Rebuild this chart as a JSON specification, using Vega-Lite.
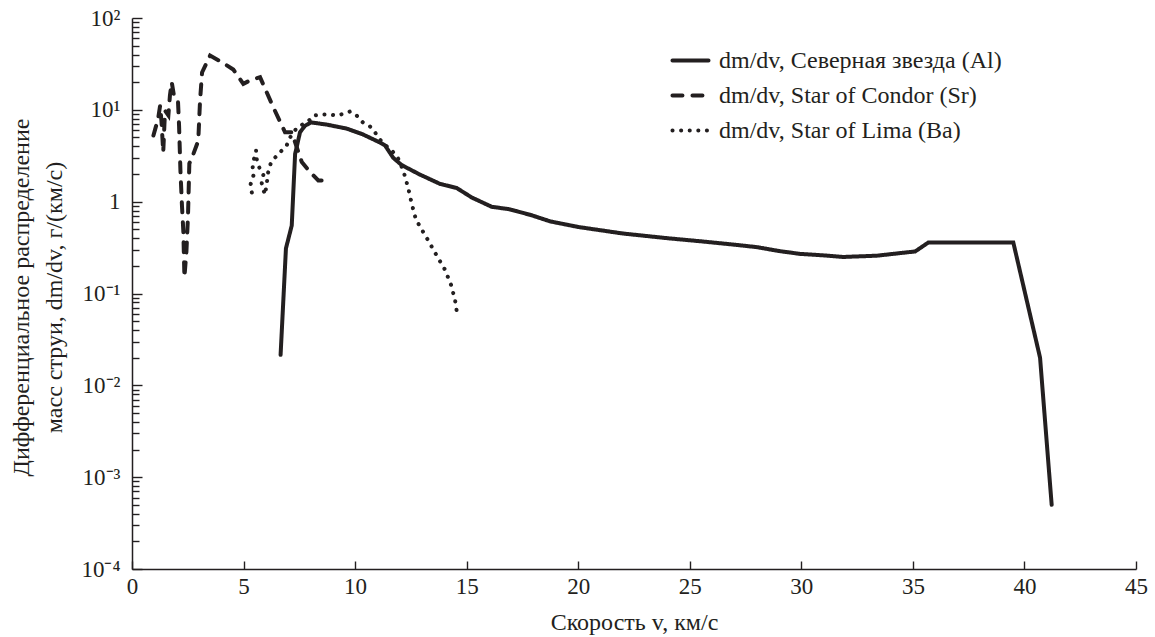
{
  "$schema": "https://vega.github.io/schema/vega-lite/v6.json",
  "autosize": "none",
  "width": 1004,
  "height": 551,
  "padding": {"left": 132, "top": 18, "right": 19, "bottom": 68},
  "config": {
    "view": {"stroke": "transparent"}
  },
  "data": {
    "values": [
      {"series": "dm/dv, Северная звезда (Al)", "i": 1, "v": 6.66, "m": 0.0215},
      {"series": "dm/dv, Северная звезда (Al)", "i": 2, "v": 6.90, "m": 0.31},
      {"series": "dm/dv, Северная звезда (Al)", "i": 3, "v": 7.16, "m": 0.55},
      {"series": "dm/dv, Северная звезда (Al)", "i": 4, "v": 7.31, "m": 3.3},
      {"series": "dm/dv, Северная звезда (Al)", "i": 5, "v": 7.53, "m": 5.7},
      {"series": "dm/dv, Северная звезда (Al)", "i": 6, "v": 7.75, "m": 6.7},
      {"series": "dm/dv, Северная звезда (Al)", "i": 7, "v": 8.02, "m": 7.3},
      {"series": "dm/dv, Северная звезда (Al)", "i": 8, "v": 8.73, "m": 6.9},
      {"series": "dm/dv, Северная звезда (Al)", "i": 9, "v": 9.62, "m": 6.25},
      {"series": "dm/dv, Северная звезда (Al)", "i": 10, "v": 10.35, "m": 5.4},
      {"series": "dm/dv, Северная звезда (Al)", "i": 11, "v": 11.12, "m": 4.4},
      {"series": "dm/dv, Северная звезда (Al)", "i": 12, "v": 11.34, "m": 4.1},
      {"series": "dm/dv, Северная звезда (Al)", "i": 13, "v": 11.71, "m": 3.0},
      {"series": "dm/dv, Северная звезда (Al)", "i": 14, "v": 12.09, "m": 2.5},
      {"series": "dm/dv, Северная звезда (Al)", "i": 15, "v": 12.91, "m": 1.97},
      {"series": "dm/dv, Северная звезда (Al)", "i": 16, "v": 13.81, "m": 1.56},
      {"series": "dm/dv, Северная звезда (Al)", "i": 17, "v": 14.55, "m": 1.41},
      {"series": "dm/dv, Северная звезда (Al)", "i": 18, "v": 15.23, "m": 1.11},
      {"series": "dm/dv, Северная звезда (Al)", "i": 19, "v": 16.12, "m": 0.88},
      {"series": "dm/dv, Северная звезда (Al)", "i": 20, "v": 16.87, "m": 0.83},
      {"series": "dm/dv, Северная звезда (Al)", "i": 21, "v": 17.84, "m": 0.72},
      {"series": "dm/dv, Северная звезда (Al)", "i": 22, "v": 18.74, "m": 0.61},
      {"series": "dm/dv, Северная звезда (Al)", "i": 23, "v": 20.0, "m": 0.53},
      {"series": "dm/dv, Северная звезда (Al)", "i": 24, "v": 22.0, "m": 0.45},
      {"series": "dm/dv, Северная звезда (Al)", "i": 25, "v": 24.0, "m": 0.40},
      {"series": "dm/dv, Северная звезда (Al)", "i": 26, "v": 25.5, "m": 0.37},
      {"series": "dm/dv, Северная звезда (Al)", "i": 27, "v": 27.0, "m": 0.34},
      {"series": "dm/dv, Северная звезда (Al)", "i": 28, "v": 28.0, "m": 0.32},
      {"series": "dm/dv, Северная звезда (Al)", "i": 29, "v": 29.0, "m": 0.29},
      {"series": "dm/dv, Северная звезда (Al)", "i": 30, "v": 29.94, "m": 0.27},
      {"series": "dm/dv, Северная звезда (Al)", "i": 31, "v": 31.0, "m": 0.26},
      {"series": "dm/dv, Северная звезда (Al)", "i": 32, "v": 31.88, "m": 0.25},
      {"series": "dm/dv, Северная звезда (Al)", "i": 33, "v": 33.38, "m": 0.258},
      {"series": "dm/dv, Северная звезда (Al)", "i": 34, "v": 35.1, "m": 0.287},
      {"series": "dm/dv, Северная звезда (Al)", "i": 35, "v": 35.7, "m": 0.36},
      {"series": "dm/dv, Северная звезда (Al)", "i": 36, "v": 39.5, "m": 0.36},
      {"series": "dm/dv, Северная звезда (Al)", "i": 37, "v": 40.7, "m": 0.02},
      {"series": "dm/dv, Северная звезда (Al)", "i": 38, "v": 41.22, "m": 0.0005},

      {"series": "dm/dv, Star of Condor (Sr)", "i": 1, "v": 0.96, "m": 5.25},
      {"series": "dm/dv, Star of Condor (Sr)", "i": 2, "v": 1.17, "m": 8.0},
      {"series": "dm/dv, Star of Condor (Sr)", "i": 3, "v": 1.26, "m": 11.1},
      {"series": "dm/dv, Star of Condor (Sr)", "i": 4, "v": 1.32, "m": 7.6},
      {"series": "dm/dv, Star of Condor (Sr)", "i": 5, "v": 1.40, "m": 3.45},
      {"series": "dm/dv, Star of Condor (Sr)", "i": 6, "v": 1.48, "m": 9.8},
      {"series": "dm/dv, Star of Condor (Sr)", "i": 7, "v": 1.63, "m": 8.7},
      {"series": "dm/dv, Star of Condor (Sr)", "i": 8, "v": 1.70, "m": 14.3},
      {"series": "dm/dv, Star of Condor (Sr)", "i": 9, "v": 1.78, "m": 20.0},
      {"series": "dm/dv, Star of Condor (Sr)", "i": 10, "v": 1.88, "m": 14.3},
      {"series": "dm/dv, Star of Condor (Sr)", "i": 11, "v": 2.06, "m": 12.6},
      {"series": "dm/dv, Star of Condor (Sr)", "i": 12, "v": 2.11, "m": 6.7},
      {"series": "dm/dv, Star of Condor (Sr)", "i": 13, "v": 2.17, "m": 2.2},
      {"series": "dm/dv, Star of Condor (Sr)", "i": 14, "v": 2.24, "m": 0.9},
      {"series": "dm/dv, Star of Condor (Sr)", "i": 15, "v": 2.30, "m": 0.48},
      {"series": "dm/dv, Star of Condor (Sr)", "i": 16, "v": 2.35, "m": 0.15},
      {"series": "dm/dv, Star of Condor (Sr)", "i": 17, "v": 2.44, "m": 0.29},
      {"series": "dm/dv, Star of Condor (Sr)", "i": 18, "v": 2.51, "m": 0.70},
      {"series": "dm/dv, Star of Condor (Sr)", "i": 19, "v": 2.57, "m": 2.6},
      {"series": "dm/dv, Star of Condor (Sr)", "i": 20, "v": 2.73, "m": 3.2},
      {"series": "dm/dv, Star of Condor (Sr)", "i": 21, "v": 2.97, "m": 4.6},
      {"series": "dm/dv, Star of Condor (Sr)", "i": 22, "v": 3.05, "m": 12.6},
      {"series": "dm/dv, Star of Condor (Sr)", "i": 23, "v": 3.14, "m": 25.5},
      {"series": "dm/dv, Star of Condor (Sr)", "i": 24, "v": 3.50, "m": 39},
      {"series": "dm/dv, Star of Condor (Sr)", "i": 25, "v": 4.03, "m": 33},
      {"series": "dm/dv, Star of Condor (Sr)", "i": 26, "v": 4.54, "m": 27.5},
      {"series": "dm/dv, Star of Condor (Sr)", "i": 27, "v": 4.99, "m": 19.2},
      {"series": "dm/dv, Star of Condor (Sr)", "i": 28, "v": 5.29, "m": 20.9},
      {"series": "dm/dv, Star of Condor (Sr)", "i": 29, "v": 5.74, "m": 22.7},
      {"series": "dm/dv, Star of Condor (Sr)", "i": 30, "v": 6.33, "m": 10.7},
      {"series": "dm/dv, Star of Condor (Sr)", "i": 31, "v": 6.86, "m": 5.7},
      {"series": "dm/dv, Star of Condor (Sr)", "i": 32, "v": 7.16, "m": 5.7},
      {"series": "dm/dv, Star of Condor (Sr)", "i": 33, "v": 7.61, "m": 2.7},
      {"series": "dm/dv, Star of Condor (Sr)", "i": 34, "v": 7.98, "m": 2.1},
      {"series": "dm/dv, Star of Condor (Sr)", "i": 35, "v": 8.35, "m": 1.7},
      {"series": "dm/dv, Star of Condor (Sr)", "i": 36, "v": 8.65, "m": 1.7},

      {"series": "dm/dv, Star of Lima (Ba)", "i": 1, "v": 5.37, "m": 1.26},
      {"series": "dm/dv, Star of Lima (Ba)", "i": 2, "v": 5.31, "m": 1.53},
      {"series": "dm/dv, Star of Lima (Ba)", "i": 3, "v": 5.44, "m": 1.92},
      {"series": "dm/dv, Star of Lima (Ba)", "i": 4, "v": 5.41, "m": 2.37},
      {"series": "dm/dv, Star of Lima (Ba)", "i": 5, "v": 5.47, "m": 2.94},
      {"series": "dm/dv, Star of Lima (Ba)", "i": 6, "v": 5.56, "m": 3.6},
      {"series": "dm/dv, Star of Lima (Ba)", "i": 7, "v": 5.60, "m": 2.8},
      {"series": "dm/dv, Star of Lima (Ba)", "i": 8, "v": 5.74, "m": 2.23},
      {"series": "dm/dv, Star of Lima (Ba)", "i": 9, "v": 5.89, "m": 1.97},
      {"series": "dm/dv, Star of Lima (Ba)", "i": 10, "v": 5.80, "m": 1.65},
      {"series": "dm/dv, Star of Lima (Ba)", "i": 11, "v": 5.87, "m": 1.39},
      {"series": "dm/dv, Star of Lima (Ba)", "i": 12, "v": 5.96, "m": 1.19},
      {"series": "dm/dv, Star of Lima (Ba)", "i": 13, "v": 6.04, "m": 1.57},
      {"series": "dm/dv, Star of Lima (Ba)", "i": 14, "v": 6.10, "m": 2.07},
      {"series": "dm/dv, Star of Lima (Ba)", "i": 15, "v": 6.23, "m": 2.68},
      {"series": "dm/dv, Star of Lima (Ba)", "i": 16, "v": 6.49, "m": 3.17},
      {"series": "dm/dv, Star of Lima (Ba)", "i": 17, "v": 6.71, "m": 3.6},
      {"series": "dm/dv, Star of Lima (Ba)", "i": 18, "v": 6.93, "m": 4.08},
      {"series": "dm/dv, Star of Lima (Ba)", "i": 19, "v": 7.08, "m": 4.99},
      {"series": "dm/dv, Star of Lima (Ba)", "i": 20, "v": 7.38, "m": 6.33},
      {"series": "dm/dv, Star of Lima (Ba)", "i": 21, "v": 7.61, "m": 6.86},
      {"series": "dm/dv, Star of Lima (Ba)", "i": 22, "v": 7.90, "m": 7.51},
      {"series": "dm/dv, Star of Lima (Ba)", "i": 23, "v": 8.13, "m": 8.67},
      {"series": "dm/dv, Star of Lima (Ba)", "i": 24, "v": 8.50, "m": 8.89},
      {"series": "dm/dv, Star of Lima (Ba)", "i": 25, "v": 8.87, "m": 8.89},
      {"series": "dm/dv, Star of Lima (Ba)", "i": 26, "v": 9.18, "m": 8.67},
      {"series": "dm/dv, Star of Lima (Ba)", "i": 27, "v": 9.47, "m": 9.04},
      {"series": "dm/dv, Star of Lima (Ba)", "i": 28, "v": 9.77, "m": 9.58},
      {"series": "dm/dv, Star of Lima (Ba)", "i": 29, "v": 10.07, "m": 8.67},
      {"series": "dm/dv, Star of Lima (Ba)", "i": 30, "v": 10.34, "m": 7.32},
      {"series": "dm/dv, Star of Lima (Ba)", "i": 31, "v": 10.67, "m": 6.58},
      {"series": "dm/dv, Star of Lima (Ba)", "i": 32, "v": 10.89, "m": 5.7},
      {"series": "dm/dv, Star of Lima (Ba)", "i": 33, "v": 11.08, "m": 4.83},
      {"series": "dm/dv, Star of Lima (Ba)", "i": 34, "v": 11.38, "m": 4.08},
      {"series": "dm/dv, Star of Lima (Ba)", "i": 35, "v": 11.64, "m": 3.6},
      {"series": "dm/dv, Star of Lima (Ba)", "i": 36, "v": 11.89, "m": 3.1},
      {"series": "dm/dv, Star of Lima (Ba)", "i": 37, "v": 12.16, "m": 2.18},
      {"series": "dm/dv, Star of Lima (Ba)", "i": 38, "v": 12.38, "m": 1.41},
      {"series": "dm/dv, Star of Lima (Ba)", "i": 39, "v": 12.54, "m": 0.944},
      {"series": "dm/dv, Star of Lima (Ba)", "i": 40, "v": 12.72, "m": 0.647},
      {"series": "dm/dv, Star of Lima (Ba)", "i": 41, "v": 12.91, "m": 0.534},
      {"series": "dm/dv, Star of Lima (Ba)", "i": 42, "v": 13.28, "m": 0.376},
      {"series": "dm/dv, Star of Lima (Ba)", "i": 43, "v": 13.66, "m": 0.258},
      {"series": "dm/dv, Star of Lima (Ba)", "i": 44, "v": 14.03, "m": 0.181},
      {"series": "dm/dv, Star of Lima (Ba)", "i": 45, "v": 14.30, "m": 0.124},
      {"series": "dm/dv, Star of Lima (Ba)", "i": 46, "v": 14.48, "m": 0.0848},
      {"series": "dm/dv, Star of Lima (Ba)", "i": 47, "v": 14.60, "m": 0.054}
    ]
  },
  "mark": {"type": "line", "color": "#231f20", "strokeCap": "round", "strokeWidth": 4},
  "encoding": {
    "x": {
      "field": "v",
      "type": "quantitative",
      "scale": {"domain": [0, 45], "nice": false, "zero": false},
      "axis": {
        "values": [0, 5, 10, 15, 20, 25, 30, 35, 40, 45],
        "gridOpacity": 0,
        "domainColor": "#231f20",
        "domainWidth": 1.5,
        "tickSize": -8,
        "tickColor": "#231f20",
        "tickWidth": 1.4,
        "labelFont": "Liberation Serif",
        "labelFontSize": 23,
        "labelColor": "#231f20",
        "labelPadding": 14,
        "labelFlush": false,
        "title": "Скорость v, км/с",
        "titleFont": "Liberation Serif",
        "titleFontSize": 24,
        "titleFontWeight": "normal",
        "titleColor": "#231f20",
        "titleY": 53,
        "titleBaseline": "middle"
      }
    },
    "y": {
      "field": "m",
      "type": "quantitative",
      "scale": {"type": "log", "domain": [0.0001, 100], "nice": false},
      "axis": {
        "values": [0.0001, 0.0002, 0.0003, 0.0004, 0.0005, 0.0006, 0.0007, 0.0008, 0.0009,
                   0.001, 0.002, 0.003, 0.004, 0.005, 0.006, 0.007, 0.008, 0.009,
                   0.01, 0.02, 0.03, 0.04, 0.05, 0.06, 0.07, 0.08, 0.09,
                   0.1, 0.2, 0.3, 0.4, 0.5, 0.6, 0.7, 0.8, 0.9,
                   1, 2, 3, 4, 5, 6, 7, 8, 9,
                   10, 20, 30, 40, 50, 60, 70, 80, 90, 100],
        "labelExpr": "datum.value == 100 ? '10²' : datum.value == 10 ? '10¹' : datum.value == 1 ? '1' : datum.value == 0.1 ? '10⁻¹' : datum.value == 0.01 ? '10⁻²' : datum.value == 0.001 ? '10⁻³' : datum.value == 0.0001 ? '10⁻⁴' : ''",
        "gridOpacity": 0,
        "domainColor": "#231f20",
        "domainWidth": 1.5,
        "labelOverlap": false,
        "labelFlush": false,
        "labelBaseline": "middle",
        "labelFont": "Liberation Serif",
        "labelFontSize": 23,
        "labelColor": "#231f20",
        "tickColor": "#231f20",
        "tickWidth": 1.4,
        "tickSize": {"condition": {"test": "indexof([100, 10, 1, 0.1, 0.01, 0.001, 0.0001], datum.value) >= 0", "value": -10}, "value": -7},
        "labelPadding": 22,
        "title": ["Дифференциальное распределение", "масс струи, dm/dv, г/(км/с)"],
        "titleFont": "Liberation Serif",
        "titleFontSize": 24,
        "titleFontWeight": "normal",
        "titleColor": "#231f20",
        "titleX": -123,
        "titleY": 279,
        "titleAngle": 270,
        "titleBaseline": "top",
        "titleAlign": "center",
        "titleLineHeight": 33
      }
    },
    "order": {"field": "i", "type": "quantitative"},
    "strokeDash": {
      "field": "series",
      "type": "nominal",
      "scale": {
        "domain": ["dm/dv, Северная звезда (Al)", "dm/dv, Star of Condor (Sr)", "dm/dv, Star of Lima (Ba)"],
        "range": [[1, 0], [10, 10], [0.1, 8.5]]
      },
      "legend": {
        "orient": "none",
        "legendX": 538,
        "legendY": 22,
        "title": null,
        "symbolType": "stroke",
        "symbolSize": 1300,
        "symbolStrokeWidth": 4,
        "symbolStrokeColor": "#231f20",
        "labelFont": "Liberation Serif",
        "labelFontSize": 24,
        "labelColor": "#231f20",
        "labelOffset": 8,
        "rowPadding": 2,
        "labelLimit": 500,
        "encode": {"symbols": {"update": {"strokeCap": {"value": "round"}}}}
      }
    }
  }
}
